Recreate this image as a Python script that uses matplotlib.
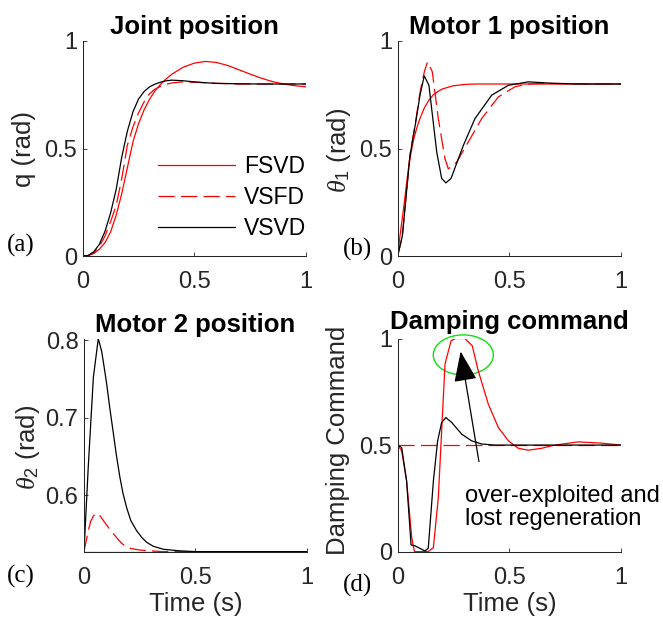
import numpy as np
import matplotlib
matplotlib.use("Agg")
import matplotlib.pyplot as plt
from matplotlib.patches import Ellipse

plt.rcParams['font.family'] = ['Liberation Sans', 'DejaVu Sans']
plt.rcParams['mathtext.fontset'] = 'custom'
plt.rcParams['mathtext.rm'] = 'Liberation Sans'
plt.rcParams['mathtext.it'] = 'Liberation Serif:italic'

# ---- data ----
series_names = ["FSVD", "VSFD", "VSVD"]
x_ticks = [0, 0.5, 1]
x_tick_labels = ["0", "0.5", "1"]
y_ticks_unit = [0, 0.5, 1]
y_tick_labels_unit = ["0", "0.5", "1"]
y_ticks_m2 = [0.6, 0.7, 0.8]
y_tick_labels_m2 = ["0.6", "0.7", "0.8"]

# (a) joint position
t_q_fsvd = [0, 0.025, 0.05, 0.075, 0.1, 0.125, 0.15, 0.175, 0.2, 0.225, 0.25, 0.275, 0.3, 0.325,
            0.35, 0.375, 0.4, 0.45, 0.5, 0.55, 0.6, 0.65, 0.7, 0.75, 0.8, 0.85, 0.9, 0.95, 1.0]
q_fsvd = [0, 0.002, 0.012, 0.032, 0.062, 0.112, 0.19, 0.29, 0.41, 0.53, 0.615, 0.68, 0.73, 0.77,
          0.8, 0.825, 0.846, 0.878, 0.897, 0.905, 0.9, 0.886, 0.866, 0.846, 0.827, 0.811, 0.8,
          0.792, 0.787]
t_q_vsfd = [0, 0.025, 0.05, 0.075, 0.1, 0.125, 0.15, 0.175, 0.2, 0.225, 0.25, 0.275, 0.3, 0.325,
            0.35, 0.375, 0.4, 0.45, 0.5, 0.6, 0.7, 1.0]
q_vsfd = [0, 0.002, 0.015, 0.045, 0.093, 0.16, 0.235, 0.36, 0.515, 0.6, 0.665, 0.717, 0.755,
          0.777, 0.79, 0.799, 0.805, 0.81, 0.808, 0.803, 0.8, 0.8]
t_q_vsvd = [0, 0.025, 0.05, 0.075, 0.1, 0.125, 0.15, 0.175, 0.2, 0.225, 0.25, 0.275, 0.3, 0.325,
            0.35, 0.375, 0.4, 0.45, 0.5, 0.55, 0.6, 0.7, 0.8, 1.0]
q_vsvd = [0, 0.003, 0.02, 0.055, 0.115, 0.2, 0.31, 0.46, 0.58, 0.67, 0.73, 0.765, 0.787, 0.8,
          0.809, 0.815, 0.818, 0.815, 0.81, 0.806, 0.803, 0.801, 0.8, 0.8]

# (b) motor 1 position
t_m1_fsvd = [0, 0.01, 0.02, 0.03, 0.04, 0.05, 0.06, 0.07, 0.08, 0.09, 0.1, 0.12, 0.14, 0.16,
             0.18, 0.2, 0.25, 0.3, 0.35, 1.0]
m1_fsvd = [0, 0.09, 0.17, 0.25, 0.34, 0.42, 0.48, 0.535, 0.575, 0.61, 0.64, 0.69, 0.725, 0.75,
           0.765, 0.777, 0.792, 0.798, 0.8, 0.8]
t_m1_vsfd = [0, 0.021, 0.055, 0.081, 0.1, 0.12, 0.134, 0.155, 0.182, 0.212, 0.227, 0.264, 0.316,
             0.376, 0.451, 0.525, 0.585, 0.65, 1.0]
m1_vsfd = [0, 0.093, 0.47, 0.63, 0.76, 0.86, 0.903, 0.857, 0.639, 0.452, 0.405, 0.436, 0.53,
           0.639, 0.74, 0.787, 0.8, 0.803, 0.8]
t_m1_vsvd = [0, 0.021, 0.055, 0.081, 0.1, 0.119, 0.14, 0.175, 0.197, 0.216, 0.239, 0.294, 0.346,
             0.421, 0.496, 0.585, 0.7, 0.8, 1.0]
m1_vsvd = [0, 0.093, 0.467, 0.623, 0.748, 0.838, 0.794, 0.483, 0.361, 0.34, 0.361, 0.514, 0.639,
           0.748, 0.794, 0.81, 0.803, 0.8, 0.8]

# (c) motor 2 position
t_m2_fsvd = [0, 1.0]
m2_fsvd = [0.527, 0.527]
t_m2_vsfd = [0, 0.01, 0.019, 0.03, 0.042, 0.053, 0.064, 0.075, 0.087, 0.11, 0.132, 0.155, 0.176,
             0.21, 0.251, 0.3, 0.35, 1.0]
m2_vsfd = [0.527, 0.541, 0.554, 0.566, 0.573, 0.576, 0.576, 0.572, 0.567, 0.558, 0.55, 0.542,
           0.536, 0.531, 0.529, 0.528, 0.527, 0.527]
t_m2_vsvd = [0, 0.019, 0.042, 0.064, 0.079, 0.09, 0.102, 0.115, 0.132, 0.145, 0.161, 0.175,
             0.191, 0.21, 0.236, 0.26, 0.281, 0.31, 0.356, 0.43, 0.5, 1.0]
m2_vsvd = [0.527, 0.636, 0.752, 0.802, 0.786, 0.766, 0.743, 0.714, 0.679, 0.652, 0.623, 0.602,
           0.584, 0.567, 0.554, 0.545, 0.539, 0.534, 0.53, 0.528, 0.527, 0.527]

# (d) damping command
t_d_fsvd = [0, 0.018, 0.04, 0.063, 0.075, 0.137, 0.16, 0.182, 0.212, 0.239, 0.257, 0.301, 0.334,
            0.361, 0.406, 0.451, 0.496, 0.54, 0.585, 0.645, 0.704, 0.809, 0.913, 1.0]
d_fsvd = [0.5, 0.473, 0.332, 0.066, 0, 0, 0.019, 0.254, 0.88, 0.989, 1.0, 1.0, 0.966,
          0.848, 0.692, 0.582, 0.52, 0.485, 0.476, 0.485, 0.5, 0.515, 0.509, 0.5]
t_d_vsfd = [0, 1.0]
d_vsfd = [0.5, 0.5]
t_d_vsvd = [0, 0.018, 0.04, 0.06, 0.078, 0.122, 0.137, 0.16, 0.179, 0.197, 0.216, 0.242, 0.287,
            0.331, 0.376, 0.436, 1.0]
d_vsvd = [0.5, 0.488, 0.332, 0.031, 0.027, 0.003, 0.016, 0.332, 0.52, 0.606, 0.629, 0.606, 0.551,
          0.52, 0.505, 0.5, 0.5]

annot_text = "over-exploited and\nlost regeneration"

axcol = (0.15, 0.15, 0.15)
lw = 0.9
dash = (0, (13, 5))

fig = plt.figure(figsize=(6.63, 6.24), dpi=100)
ax_a = fig.add_axes([0.1247, 0.5897, 0.3368, 0.3446])
ax_b = fig.add_axes([0.5998, 0.5897, 0.3368, 0.3446])
ax_c = fig.add_axes([0.1267, 0.116, 0.3363, 0.3415])
ax_d = fig.add_axes([0.5998, 0.116, 0.3368, 0.3415])


def style(ax):
    for s in ['top', 'right']:
        ax.spines[s].set_visible(False)
    for s in ['left', 'bottom']:
        ax.spines[s].set_color(axcol)
        ax.spines[s].set_linewidth(0.75)
    ax.tick_params(direction='in', length=3, width=0.6, colors=axcol, labelsize=17)
    ax.tick_params(axis='x', pad=11)
    ax.tick_params(axis='y', pad=4)
    ax.set_xlim(0, 1)
    ax.set_xticks(x_ticks)
    ax.set_xticklabels(x_tick_labels)


def three(ax, t1, y1, t2, y2, t3, y3):
    ax.plot(t1, y1, color='red', lw=lw, label=series_names[0])
    ax.plot(t2, y2, color='red', lw=lw, linestyle=dash, label=series_names[1])
    ax.plot(t3, y3, color='black', lw=lw, label=series_names[2])


three(ax_a, t_q_fsvd, q_fsvd, t_q_vsfd, q_vsfd, t_q_vsvd, q_vsvd)
three(ax_b, t_m1_fsvd, m1_fsvd, t_m1_vsfd, m1_vsfd, t_m1_vsvd, m1_vsvd)
three(ax_c, t_m2_fsvd, m2_fsvd, t_m2_vsfd, m2_vsfd, t_m2_vsvd, m2_vsvd)
three(ax_d, t_d_fsvd, d_fsvd, t_d_vsfd, d_vsfd, t_d_vsvd, d_vsvd)

for ax in [ax_a, ax_b, ax_c, ax_d]:
    style(ax)

for ax in [ax_a, ax_b, ax_d]:
    ax.set_ylim(0, 1)
    ax.set_yticks(y_ticks_unit)
    ax.set_yticklabels(y_tick_labels_unit)
ax_c.set_ylim(0.527, 0.8022)
ax_c.set_yticks(y_ticks_m2)
ax_c.set_yticklabels(y_tick_labels_m2)

tkw = dict(fontsize=18.5, fontweight='bold', color='black')
ax_a.set_title("Joint position", pad=5, **tkw)
ax_b.set_title("Motor 1 position", pad=5, **tkw)
ax_c.set_title("Motor 2 position", pad=5, **tkw)
ax_d.set_title("Damping command", pad=7, **tkw)

lkw = dict(fontsize=18.5, color=axcol)
ax_a.set_ylabel("q (rad)", **lkw)
ax_b.set_ylabel(r"$\theta_1$ (rad)", **lkw)
ax_c.set_ylabel(r"$\theta_2$ (rad)", **lkw)
ax_d.set_ylabel("Damping Command", **lkw)
ax_a.yaxis.set_label_coords(-0.209, 0.5)
ax_b.yaxis.set_label_coords(-0.199, 0.49)
ax_c.yaxis.set_label_coords(-0.19, 0.49)
ax_d.yaxis.set_label_coords(-0.214, 0.52)
for ax in [ax_c, ax_d]:
    ax.set_xlabel("Time (s)", **lkw)
    ax.xaxis.set_label_coords(0.5, -0.19)

leg = ax_a.legend(loc='center right', bbox_to_anchor=(1.0, 0.273), frameon=False,
                  fontsize=16.5, handlelength=3.4, handletextpad=0.36, labelspacing=0.35,
                  borderaxespad=0, borderpad=0)

# annotation in (d)
ax_d.add_patch(Ellipse((0.294, 0.923), 0.269, 0.188, fill=False, edgecolor='#11dd11',
                       lw=1.0, clip_on=False))
ax_d.annotate("", xy=(0.282, 0.939), xytext=(0.364, 0.4225),
              arrowprops=dict(arrowstyle='-|>,head_length=1.9,head_width=0.72',
                              mutation_scale=10, color='black', lw=0.9,
                              shrinkA=0, shrinkB=0))
ax_d.text(0.301, 0.2075, annot_text, fontsize=17, color='black', ha='left', va='center',
          linespacing=1.1)

pkw = dict(fontsize=18, family='Liberation Serif', color='black', ha='center', va='center')
fig.text(0.0317, 0.6074, "(a)", **pkw)
fig.text(0.5385, 0.601, "(b)", **pkw)
fig.text(0.0317, 0.0758, "(c)", **pkw)
fig.text(0.5395, 0.0625, "(d)", **pkw)

fig.savefig("out.png", dpi=100)
